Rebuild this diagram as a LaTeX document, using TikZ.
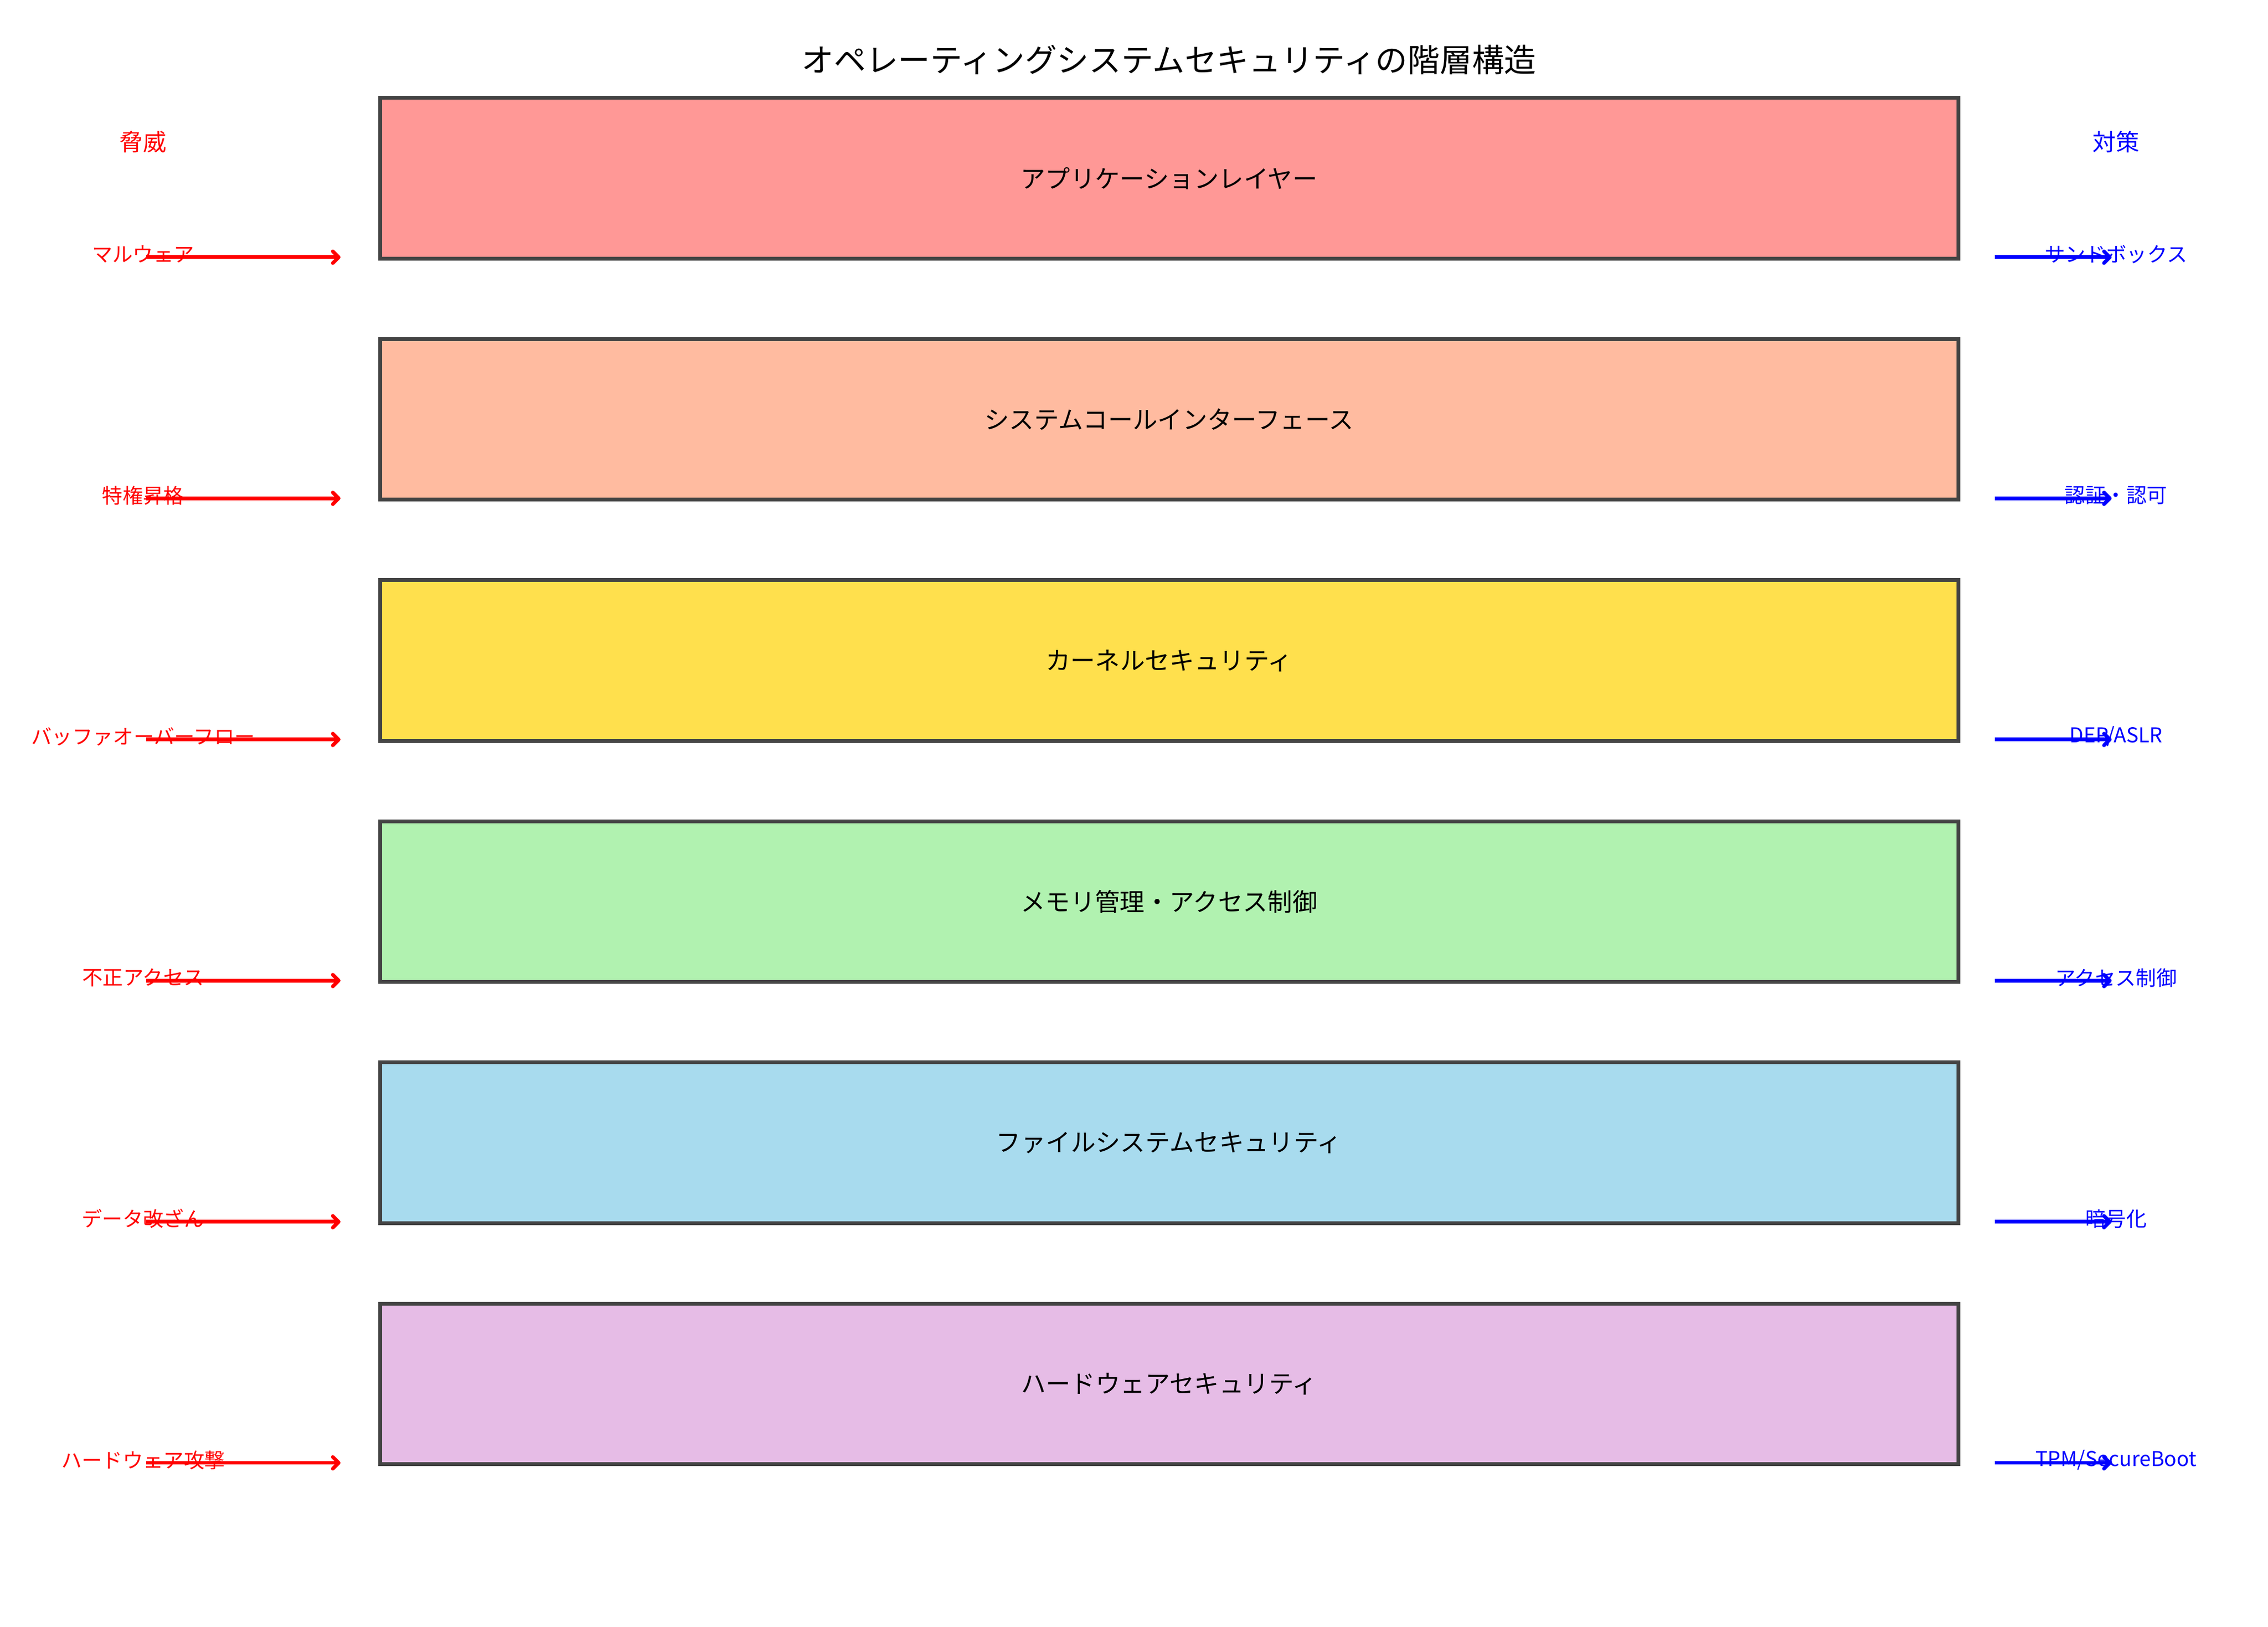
\documentclass[tikz,border=0pt]{standalone}
\usepackage{fontspec}
\setmainfont{Noto Sans CJK JP}
\usetikzlibrary{arrows.meta}
\definecolor{c1}{HTML}{FF9896}
\definecolor{c2}{HTML}{FFBBA0}
\definecolor{c3}{HTML}{FFE04D}
\definecolor{c4}{HTML}{B1F2B0}
\definecolor{c5}{HTML}{A8DBEE}
\definecolor{c6}{HTML}{E6BCE6}
\definecolor{edge}{HTML}{444444}
\definecolor{myred}{HTML}{FF0000}
\definecolor{myblue}{HTML}{0000FF}
\tikzset{
 layer/.style={draw=edge,line width=2.6pt,minimum width=1080pt,minimum height=110pt,inner sep=0pt,font=\fontsize{17}{20}\selectfont},
 threat/.style={text=myred,font=\fontsize{14}{16}\selectfont,inner sep=0pt},
 measure/.style={text=myblue,font=\fontsize{14}{16}\selectfont,inner sep=0pt},
 tarrow/.style={draw=myred,line width=2.5pt,-{Straight Barb[round,length=4pt,width=8pt]}},
 marrow/.style={draw=myblue,line width=2.5pt,-{Straight Barb[round,length=4pt,width=8pt]}},
}
\begin{document}
\begin{tikzpicture}[x=1pt,y=-1pt]
\useasboundingbox[fill=white] (0,0) rectangle (1552,1113);
\node[font=\fontsize{22}{26}\selectfont] (title) at (800,41) {オペレーティングシステムセキュリティの階層構造};
\node[threat,font=\fontsize{16}{18}\selectfont] (th) at (98,97) {脅威};
\node[measure,font=\fontsize{16}{18}\selectfont] (ms) at (1448,97) {対策};
\foreach \i/\c/\t/\th/\me in {
 0/c1/アプリケーションレイヤー/マルウェア/サンドボックス,
 1/c2/システムコールインターフェース/特権昇格/認証・認可,
 2/c3/カーネルセキュリティ/バッファオーバーフロー/{DEP/ASLR},
 3/c4/メモリ管理・アクセス制御/不正アクセス/アクセス制御,
 4/c5/ファイルシステムセキュリティ/データ改ざん/暗号化,
 5/c6/ハードウェアセキュリティ/ハードウェア攻撃/{TPM/SecureBoot}}{
 \pgfmathsetmacro{\yy}{122+165*\i}
 \pgfmathsetmacro{\ya}{176+165*\i}
 \node[layer,fill=\c] (L\i) at (800,\yy) {\t};
 \node[threat] (T\i) at (98,\ya-2) {\th};
 \coordinate (TS\i) at (100,\ya);
 \coordinate (TE\i) at (233,\ya);
 \draw[tarrow] (TS\i) -- (TE\i);
 \node[measure] (M\i) at (1448,\ya-2) {\me};
 \coordinate (MS\i) at (1365,\ya);
 \coordinate (ME\i) at (1445,\ya);
 \draw[marrow] (MS\i) -- (ME\i);
}
\end{tikzpicture}
\end{document}
